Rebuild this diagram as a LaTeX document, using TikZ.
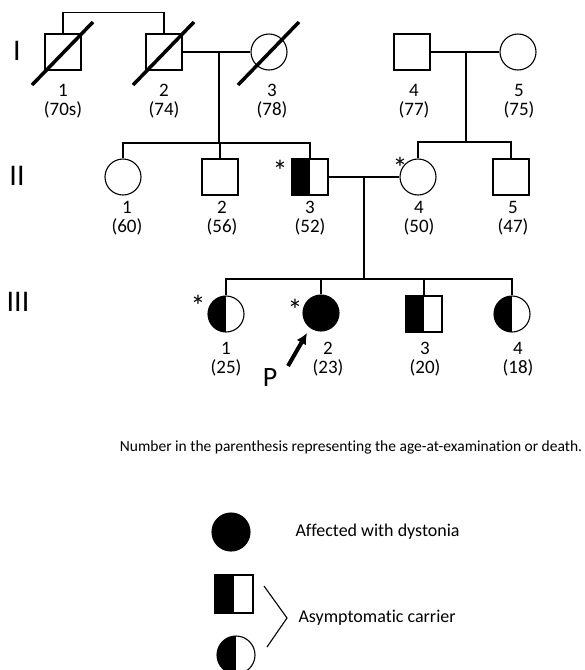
\documentclass[tikz,border=0pt]{standalone}
\usepackage{fontspec}
\setmainfont{Carlito}[Ligatures=CommonOff]
\usetikzlibrary{positioning,calc,arrows.meta}
\begin{document}
\begin{tikzpicture}[x=1pt,y=-1pt,>=latex,line width=1.1pt,
    male/.style={draw,rectangle,minimum size=36pt,inner sep=0pt},
    female/.style={draw,circle,minimum size=36pt,inner sep=0pt},
    affected/.style={fill=black},
    carrier/.style={path picture={\fill[black] (path picture bounding box.south west) rectangle (path picture bounding box.north);}},
    slash/.style={line width=3.5pt},
    lbl/.style={font=\fontsize{19}{19.5}\selectfont,align=center,inner sep=0pt},
    gen/.style={font=\fontsize{30}{30}\selectfont,inner sep=0pt},
    star/.style={font=\fontsize{30}{30}\selectfont,inner sep=0pt},
    txt/.style={font=\fontsize{18}{20}\selectfont,inner sep=0pt}]
    \useasboundingbox (0,0) rectangle (585,670);

    % generation labels
    \node[gen] (g1) at (17,51) {I};
    \node[gen] (g2) at (17,176) {II};
    \node[gen] (g3) at (18,302) {III};

    % generation I
    \node[male]   (i1) at (63,52)  {};
    \node[male]   (i2) at (164,52) {};
    \node[female] (i3) at (269,52) {};
    \node[male]   (i4) at (412,52) {};
    \node[female] (i5) at (518,52) {};
    \foreach \p in {i1,i2,i3}
        \draw[slash] ($(\p.center)+(-31,33)$) -- ($(\p.center)+(30,-30)$);

    % generation II
    \node[female]         (ii1) at (123,177) {};
    \node[male]           (ii2) at (220,177) {};
    \node[male,carrier]   (ii3) at (310,177) {};
    \node[female]         (ii4) at (418,177) {};
    \node[male]           (ii5) at (511,177) {};

    % generation III
    \node[female,carrier]  (iii1) at (226,314) {};
    \node[female,affected] (iii2) at (321,313) {};
    \node[male,carrier]    (iii3) at (424,314) {};
    \node[female,carrier]  (iii4) at (512,314) {};

    % marriages and sibships
    \coordinate (m1) at (219,52);
    \coordinate (s1) at (219,143);
    \coordinate (m2) at (466,52);
    \coordinate (s2) at (466,142);
    \coordinate (m3) at (364,177);
    \coordinate (s3) at (364,279);
    \draw (i1.north) -- ++(0,-21) -| (i2.north);
    \draw (i2.east) -- (i3.west);
    \draw (i4.east) -- (i5.west);
    \draw (m1) -- (s1);
    \draw (m2) -- (s2);
    \draw (ii1.north) |- (s1) -| (ii3.north);
    \draw (ii2.north) -- (ii2.north |- s1);
    \draw (ii4.north) |- (s2) -| (ii5.north);
    \draw (ii3.east) -- (ii4.west);
    \draw (m3) -- (s3);
    \draw (iii1.north) |- (s3) -| (iii4.north);
    \draw (iii2.north) -- (iii2.north |- s3);
    \draw (iii3.north) -- (iii3.north |- s3);

    % numbers and ages
    \foreach \p/\x/\y/\n/\a in {
        i1/63/101/1/70s, i2/164/101/2/74, i3/272/101/3/78,
        i4/414/101/4/77, i5/519/101/5/75,
        ii1/127/218/1/60, ii2/222/218/2/56, ii3/310/218/3/52,
        ii4/419/218/4/50, ii5/513/218/5/47,
        iii1/226/359/1/25, iii2/328/359/2/23,
        iii3/425/359/3/20, iii4/518/359/4/18}
            \node[lbl] (l-\p) at (\x,\y) {\n\\(\a)};

    % examined
    \node[star] (st-ii3)  at (280,171) {*};
    \node[star] (st-ii4)  at (400,168) {*};
    \node[star] (st-iii1) at (198,306) {*};
    \node[star] (st-iii2) at (295,310) {*};

    % proband
    \node[font=\fontsize{28}{28}\selectfont,inner sep=0pt] (p) at (270,378) {P};
    \coordinate (ptail) at (288,366);
    \coordinate (ptip) at (307,333);
    \draw[-{Latex[length=11pt,width=11pt]},line width=4pt] (ptail) -- (ptip);

    \node[txt,font=\fontsize{15.5}{18}\selectfont] (note) at (351,447) {Number in the parenthesis representing the age-at-examination or death.};

    % legend
    \node[female,affected,minimum size=38pt] (leg-a) at (231,532) {};
    \node[male,carrier,minimum size=38pt]    (leg-m) at (234,594) {};
    \node[female,carrier,minimum size=38pt]  (leg-f) at (236,655) {};
    \coordinate (b1) at (264,586);
    \coordinate (b2) at (287,618);
    \coordinate (b3) at (267,647);
    \draw (b1) -- (b2) -- (b3);
    \node[txt,anchor=west] (leg-at) at (295,532) {Affected with dystonia};
    \node[txt,anchor=west] (leg-ct) at (298,618) {Asymptomatic carrier};
\end{tikzpicture}
\end{document}
